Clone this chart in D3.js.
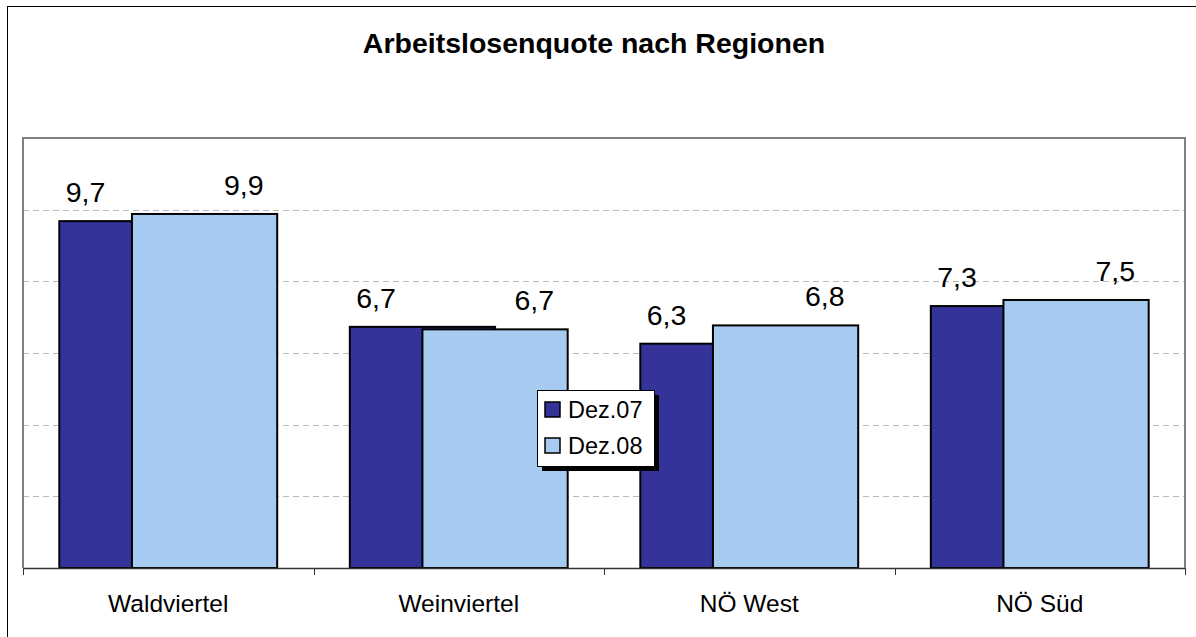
<!DOCTYPE html>
<html>
<head>
<meta charset="utf-8">
<script src="https://cdn.jsdelivr.net/npm/d3@7"></script>
<style>
  html, body { margin: 0; padding: 0; background: #fff; }
  svg { display: block; font-family: "Liberation Sans", Arial, sans-serif; }
</style>
</head>
<body>
<div id="chart"></div>
<script>
const regions = ['Waldviertel', 'Weinviertel', 'NÖ West', 'NÖ Süd'];
const seriesNames = ['Dez.07', 'Dez.08'];
const dez07 = [9.68, 6.73, 6.26, 7.31];
const dez08 = [9.88, 6.66, 6.77, 7.48];
const yTicks = [0, 2, 4, 6, 8, 10, 12];

const W = 1196, H = 637;
const plot = { left: 23, top: 138, right: 1185, bottom: 568 };
const colors = ['#333399', '#A6CAF0'];
const fmt = v => d3.format('.1f')(v).replace('.', ',');

const svg = d3.select('#chart').append('svg').attr('width', W).attr('height', H);

// outer chart frame (runs off the bottom/right of the picture)
svg.append('rect').attr('x', 7.5).attr('y', 6.5).attr('width', 1240).attr('height', 700)
  .attr('fill', '#fff').attr('stroke', '#000').attr('stroke-width', 1);

svg.append('text').attr('x', 594).attr('y', 53).attr('text-anchor', 'middle')
  .attr('font-size', '28.5px').attr('font-weight', 'bold').attr('fill', '#000')
  .text('Arbeitslosenquote nach Regionen');

const x = d3.scaleBand().domain(regions).range([plot.left, plot.right]).paddingInner(0).paddingOuter(0);
const y = d3.scaleLinear().domain([0, 12]).range([plot.bottom, plot.top]);
const bw = x.bandwidth() / 2;

// gridlines
svg.append('g').selectAll('line').data(yTicks.filter(t => t > 0 && t < 12)).join('line')
  .attr('x1', plot.left).attr('x2', plot.right)
  .attr('y1', d => Math.round(y(d)) + 0.5).attr('y2', d => Math.round(y(d)) + 0.5)
  .attr('stroke', '#b8b8b8').attr('stroke-width', 1).attr('stroke-dasharray', '6,4');

// plot frame (left, top, right)
svg.append('path')
  .attr('d', `M${plot.left},${plot.bottom} V${plot.top} H${plot.right} V${plot.bottom}`)
  .attr('fill', 'none').attr('stroke', '#808080').attr('stroke-width', 2);

const series = [dez07, dez08];
series.forEach((vals, si) => {
  const g = svg.append('g');
  const bx = (d, i) => x(regions[i]) + bw * 0.25 + si * bw * 0.5;
  g.selectAll('rect').data(vals).join('rect')
    .attr('x', bx).attr('y', d => y(d))
    .attr('width', bw).attr('height', d => plot.bottom - y(d))
    .attr('fill', colors[si]).attr('stroke', '#000').attr('stroke-width', 2);
});

// data labels
series.forEach((vals, si) => {
  svg.append('g').selectAll('text').data(vals).join('text')
    .attr('x', (d, i) => x(regions[i]) + bw * 0.25 + si * bw * 0.5 + (si === 0 ? bw * 0.18 : bw * 0.77))
    .attr('y', d => y(d) - 19)
    .attr('text-anchor', 'middle').attr('font-size', '28.5px').attr('fill', '#000')
    .text(d => fmt(d));
});

// x axis
const xAxis = svg.append('g');
xAxis.append('line').attr('x1', plot.left).attr('x2', plot.right)
  .attr('y1', plot.bottom + 0.5).attr('y2', plot.bottom + 0.5)
  .attr('stroke', '#333').attr('stroke-width', 1.5);
const bounds = regions.map(r => x(r)).concat([plot.right]);
xAxis.selectAll('.tk').data(bounds).join('line').attr('class', 'tk')
  .attr('x1', d => Math.round(d) + 0.5).attr('x2', d => Math.round(d) + 0.5)
  .attr('y1', plot.bottom).attr('y2', plot.bottom + 7)
  .attr('stroke', '#333').attr('stroke-width', 1);
xAxis.selectAll('.xl').data(regions).join('text').attr('class', 'xl')
  .attr('x', d => x(d) + x.bandwidth() / 2).attr('y', 612)
  .attr('text-anchor', 'middle').attr('font-size', '24.5px').attr('fill', '#000')
  .text(d => d);

// legend
const lg = svg.append('g').attr('transform', 'translate(537,390)');
lg.append('rect').attr('x', 5).attr('y', 5).attr('width', 117).attr('height', 76).attr('fill', '#000');
lg.append('rect').attr('x', 0.5).attr('y', 0.5).attr('width', 117).attr('height', 76)
  .attr('fill', '#fff').attr('stroke', '#000').attr('stroke-width', 1);
seriesNames.forEach((name, i) => {
  lg.append('rect').attr('x', 8).attr('y', 12 + i * 36).attr('width', 15).attr('height', 15)
    .attr('fill', colors[i]).attr('stroke', '#000').attr('stroke-width', 1.5);
  lg.append('text').attr('x', 31).attr('y', 28 + i * 36)
    .attr('font-size', '23.5px').attr('fill', '#000').text(name);
});
</script>
</body>
</html>
